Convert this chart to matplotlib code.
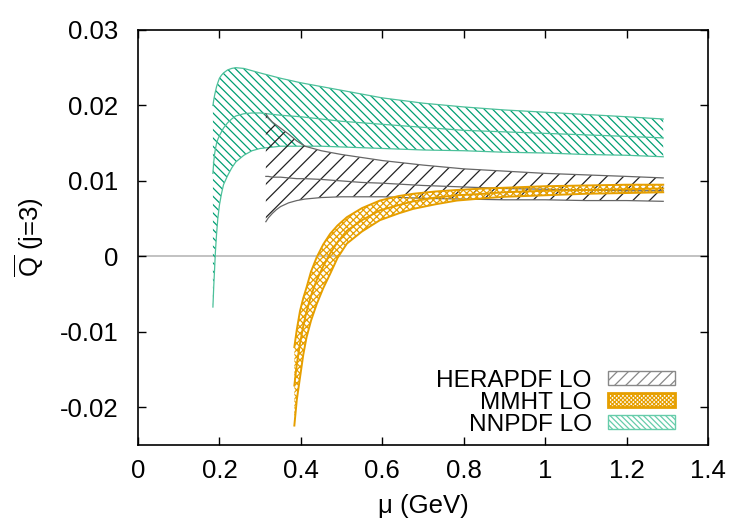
import matplotlib
matplotlib.use("Agg")
import matplotlib.pyplot as plt
from matplotlib.patches import Patch

plt.rcParams['font.family'] = ['Liberation Sans', 'DejaVu Sans']
plt.rcParams['mathtext.fontset'] = 'custom'
plt.rcParams['mathtext.rm'] = 'Liberation Sans'
plt.rcParams['hatch.linewidth'] = 0.9

# ---------------- data ----------------
nn_x = [0.184, 0.186, 0.188, 0.19, 0.193, 0.196, 0.2, 0.205, 0.21, 0.22, 0.23, 0.24, 0.26, 0.28,
        0.3, 0.35, 0.4, 0.45, 0.5, 0.6, 0.7, 0.8, 0.9, 1.0, 1.1, 1.2, 1.29]
nn_up = [0.0200, 0.0207, 0.0213, 0.0218, 0.0225, 0.0230, 0.0236, 0.0240, 0.0243, 0.0247, 0.0249,
         0.0250, 0.0249, 0.0246, 0.0243, 0.0236, 0.0230, 0.0225, 0.0220, 0.0210, 0.0203, 0.0198,
         0.0194, 0.0191, 0.0188, 0.0185, 0.0182]
nn_mid = [0.0110, 0.0125, 0.0135, 0.0142, 0.0150, 0.0155, 0.0160, 0.0165, 0.0170, 0.0177, 0.0182,
          0.0186, 0.0189, 0.0190, 0.0190, 0.0187, 0.0185, 0.0182, 0.0179, 0.0175, 0.0171, 0.0167,
          0.0165, 0.0163, 0.0161, 0.0159, 0.0157]
nn_lo = [-0.0067, -0.0040, -0.0018, 0.0005, 0.0030, 0.0050, 0.0068, 0.0083, 0.0095, 0.0107, 0.0117,
         0.0125, 0.0134, 0.0140, 0.0143, 0.0146, 0.0146, 0.0146, 0.0145, 0.0143, 0.0141, 0.0140,
         0.0138, 0.0137, 0.0135, 0.0134, 0.0132]

he_x = [0.314, 0.32, 0.33, 0.34, 0.35, 0.37, 0.39, 0.41, 0.45, 0.5, 0.55, 0.6, 0.7, 0.8, 0.9,
        1.0, 1.1, 1.2, 1.29]
he_up = [0.0189, 0.0184, 0.0178, 0.0174, 0.0170, 0.0162, 0.0153, 0.0146, 0.0140, 0.0135, 0.0131,
         0.0127, 0.0121, 0.0116, 0.0113, 0.0110, 0.0108, 0.0106, 0.0104]
he_mid = [0.0106, 0.0106, 0.0105, 0.0105, 0.0105, 0.0104, 0.0103, 0.0103, 0.0102, 0.0100, 0.0098,
          0.0097, 0.0094, 0.0092, 0.0090, 0.0089, 0.0088, 0.0087, 0.0087]
he_lo = [0.0046, 0.0051, 0.0057, 0.0062, 0.0066, 0.0071, 0.0074, 0.0076, 0.0078, 0.0079, 0.0079,
         0.0079, 0.0077, 0.0076, 0.0075, 0.0075, 0.0074, 0.0074, 0.0073]

mm_x = [0.384, 0.39, 0.398, 0.406, 0.414, 0.425, 0.439, 0.455, 0.472, 0.49, 0.513, 0.55, 0.594,
        0.64, 0.676, 0.73, 0.783, 0.85, 0.9, 1.0, 1.1, 1.2, 1.29]
mm_up = [-0.0120, -0.0097, -0.0072, -0.0055, -0.0041, -0.0020, -0.0001, 0.0016, 0.0030, 0.0041,
         0.0052, 0.0064, 0.0074, 0.0080, 0.0083, 0.0086, 0.0088, 0.0090, 0.0091, 0.0093, 0.0094,
         0.0095, 0.0095]
mm_mid = [-0.0171, -0.0143, -0.0115, -0.0092, -0.0073, -0.0052, -0.0031, -0.0013, 0.0004, 0.0019,
          0.0034, 0.0048, 0.0061, 0.0068, 0.0073, 0.0078, 0.0081, 0.0083, 0.0085, 0.0087, 0.0088,
          0.0089, 0.0090]
mm_lo = [-0.0224, -0.0190, -0.0160, -0.0130, -0.0107, -0.0085, -0.0063, -0.0042, -0.0023, -0.0002,
         0.0017, 0.0033, 0.0048, 0.0057, 0.0063, 0.0069, 0.0074, 0.0077, 0.0079, 0.0081, 0.0083,
         0.0084, 0.0085]

labels = ["HERAPDF LO", "MMHT LO", "NNPDF LO"]
x_ticks = [0, 0.2, 0.4, 0.6, 0.8, 1.0, 1.2, 1.4]
x_ticklabels = ["0", "0.2", "0.4", "0.6", "0.8", "1", "1.2", "1.4"]
y_ticks = [-0.02, -0.01, 0, 0.01, 0.02, 0.03]
y_ticklabels = ["-0.02", "-0.01", "0", "0.01", "0.02", "0.03"]

GREEN = '#009e73'
GREEN_L = '#4cc09a'
ORANGE = '#e69f00'
BLACK = '#222222'
GREY = '#666666'
FS = 18.5
LFS = 17.6

# ---------------- figure ----------------
fig = plt.figure(figsize=(7.5, 5.25), dpi=100)
ax = fig.add_axes([0.184, 0.152, 0.76, 0.791])

ax.axhline(0, color='#b8b8b8', lw=1.2, zorder=0)

# NNPDF
ax.fill_between(nn_x, nn_lo, nn_up, facecolor='none', edgecolor=GREEN, hatch='\\\\\\\\', lw=0, zorder=1)
for yy in (nn_up, nn_mid, nn_lo):
    ax.plot(nn_x, yy, color=GREEN_L, lw=0.9, zorder=2)

# HERAPDF
ax.fill_between(he_x, he_lo, he_up, facecolor='none', edgecolor=BLACK, hatch='//', lw=0, zorder=3)
for yy in (he_up, he_mid, he_lo):
    ax.plot(he_x, yy, color=GREY, lw=0.9, zorder=4)

# MMHT
ax.fill_between(mm_x, mm_lo, mm_up, facecolor='none', edgecolor=ORANGE, hatch='xxxxx', lw=0, zorder=5)
for yy in (mm_up, mm_mid, mm_lo):
    ax.plot(mm_x, yy, color=ORANGE, lw=1.4, zorder=6)

ax.set_xlim(0, 1.4)
ax.set_ylim(-0.025, 0.03)
ax.set_xticks(x_ticks)
ax.set_xticklabels(x_ticklabels)
ax.set_yticks(y_ticks)
ax.set_yticklabels(y_ticklabels)
ax.tick_params(direction='in', length=6, width=1, labelsize=FS, top=True, right=True)
ax.tick_params(axis='x', pad=10)
ax.tick_params(axis='y', pad=14)
for s in ax.spines.values():
    s.set_linewidth(1.2)

ax.set_xlabel('μ (GeV)', fontsize=FS, labelpad=8)
ax.set_ylabel(r'$\overline{\mathrm{Q}}$ (j=3)', fontsize=FS, labelpad=10)

handles = [
    Patch(facecolor='none', edgecolor='#888888', hatch='///', lw=1.0),
    Patch(facecolor='none', edgecolor=ORANGE, hatch='xxxxxxxx', lw=2.0),
    Patch(facecolor='none', edgecolor='#66ccaa', hatch='\\\\\\\\\\\\', lw=1.0),
]
ax.legend(handles, labels, loc='lower right', bbox_to_anchor=(0.942, 0.022), frameon=False,
          markerfirst=False, fontsize=LFS, handlelength=2.75, handleheight=0.5,
          handletextpad=0.65, labelspacing=0.01, borderpad=0, borderaxespad=0)

fig.savefig('out.png', dpi=100)
